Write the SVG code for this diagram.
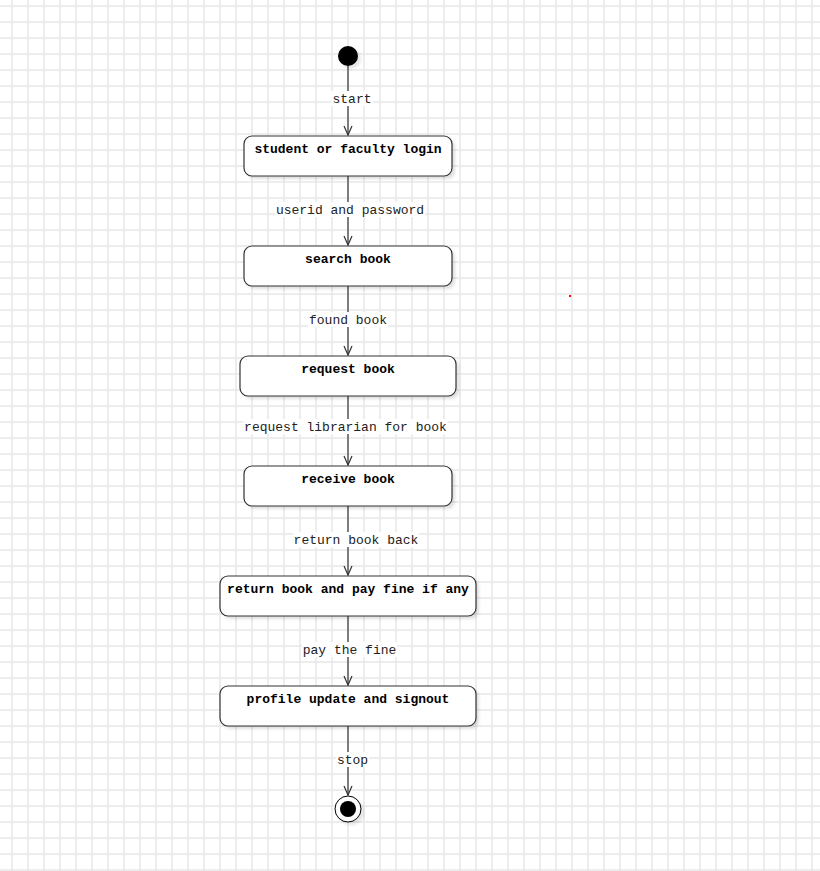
<svg xmlns="http://www.w3.org/2000/svg" width="820" height="871" viewBox="0 0 820 871">
<defs>
<pattern id="grid" x="12" y="6" width="16" height="16" patternUnits="userSpaceOnUse">
<rect x="0" y="0" width="16" height="16" fill="#ffffff"/>
<rect x="-0.75" y="0" width="1.5" height="16" fill="#e8e8e8"/>
<rect x="0" y="-0.75" width="16" height="1.5" fill="#e8e8e8"/>
<rect x="15.25" y="0" width="1.5" height="16" fill="#e8e8e8"/>
<rect x="0" y="15.25" width="16" height="1.5" fill="#e8e8e8"/>
</pattern>
<marker id="arr" markerWidth="12" markerHeight="12" refX="10" refY="6" orient="auto" markerUnits="userSpaceOnUse" viewBox="0 0 12 12">
<path d="M1,2 L10,6 L1,10" fill="none" stroke="#333" stroke-width="1.2"/>
</marker>
<filter id="sh" x="-10%" y="-20%" width="130%" height="160%">
<feGaussianBlur stdDeviation="1.5"/>
</filter>
</defs>
<style>
.node rect.box{fill:#fff;stroke:#333;stroke-width:1.2}
.node rect.shadow{fill:#000;opacity:0.12;filter:url(#sh)}
.nt{font-family:"Liberation Mono","DejaVu Sans Mono",monospace;font-size:13px;font-weight:bold;fill:#000;text-anchor:middle}
.el{font-family:"Liberation Mono","DejaVu Sans Mono",monospace;font-size:13px;fill:#222;text-anchor:middle}
.lbg{fill:#fff}
.edge{stroke:#333;stroke-width:1.2;fill:none;marker-end:url(#arr)}
</style>
<rect x="0" y="0" width="820" height="871" fill="url(#grid)"/>
<rect x="569" y="295" width="2" height="2" fill="#f00"/>

<g id="connectors">
<line class="edge" x1="348" y1="66" x2="348" y2="135"/>
<line class="edge" x1="348" y1="176" x2="348" y2="245"/>
<line class="edge" x1="348" y1="286" x2="348" y2="355"/>
<line class="edge" x1="348" y1="396" x2="348" y2="465"/>
<line class="edge" x1="348" y1="506" x2="348" y2="575"/>
<line class="edge" x1="348" y1="616" x2="348" y2="685"/>
<line class="edge" x1="348" y1="726" x2="348" y2="795"/>
<rect class="lbg" x="331" y="91" width="42" height="15"/>
<text class="el" x="352" y="103">start</text>
<rect class="lbg" x="275" y="202" width="150" height="15"/>
<text class="el" x="350" y="214">userid and password</text>
<rect class="lbg" x="308" y="312" width="80" height="15"/>
<text class="el" x="348" y="324">found book</text>
<rect class="lbg" x="243" y="419" width="205" height="15"/>
<text class="el" x="345.5" y="431">request librarian for book</text>
<rect class="lbg" x="293" y="532" width="126" height="15"/>
<text class="el" x="356" y="544">return book back</text>
<rect class="lbg" x="302" y="642" width="95" height="15"/>
<text class="el" x="349.5" y="654">pay the fine</text>
<rect class="lbg" x="336" y="752" width="33" height="15"/>
<text class="el" x="352.5" y="764">stop</text>
</g>

<g id="start">
<circle cx="351" cy="59" r="10" fill="#000" opacity="0.1" filter="url(#sh)"/>
<circle cx="348" cy="56" r="10" fill="#000"/>
</g>

<g id="n1" class="node">
<rect class="shadow" x="247" y="139" width="208" height="40" rx="8"/>
<rect class="box" x="244" y="136" width="208" height="40" rx="8"/>
<text class="nt" x="348" y="153">student or faculty login</text>
</g>
<g id="n2" class="node">
<rect class="shadow" x="247" y="249" width="208" height="40" rx="8"/>
<rect class="box" x="244" y="246" width="208" height="40" rx="8"/>
<text class="nt" x="348" y="263">search book</text>
</g>
<g id="n3" class="node">
<rect class="shadow" x="243" y="359" width="216" height="40" rx="8"/>
<rect class="box" x="240" y="356" width="216" height="40" rx="8"/>
<text class="nt" x="348" y="373">request book</text>
</g>
<g id="n4" class="node">
<rect class="shadow" x="247" y="469" width="208" height="40" rx="8"/>
<rect class="box" x="244" y="466" width="208" height="40" rx="8"/>
<text class="nt" x="348" y="483">receive book</text>
</g>
<g id="n5" class="node">
<rect class="shadow" x="223" y="579" width="256" height="40" rx="8"/>
<rect class="box" x="220" y="576" width="256" height="40" rx="8"/>
<text class="nt" x="348" y="593">return book and pay fine if any</text>
</g>
<g id="n6" class="node">
<rect class="shadow" x="223" y="689" width="256" height="40" rx="8"/>
<rect class="box" x="220" y="686" width="256" height="40" rx="8"/>
<text class="nt" x="348" y="703">profile update and signout</text>
</g>

<g id="end">
<circle cx="351" cy="812" r="13" fill="#000" opacity="0.1" filter="url(#sh)"/>
<circle cx="348" cy="809" r="13" fill="#fff" stroke="#000" stroke-width="1"/>
<circle cx="348" cy="809" r="8" fill="#000"/>
</g>
</svg>
